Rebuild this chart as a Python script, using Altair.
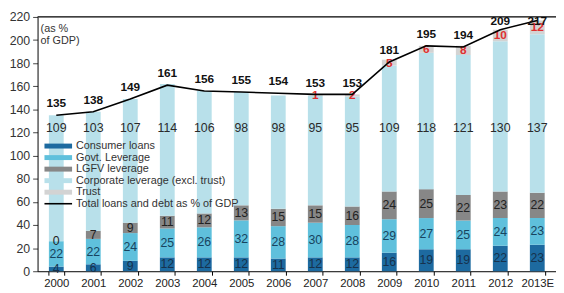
import altair as alt
import pandas as pd

years = ["2000", "2001", "2002", "2003", "2004", "2005", "2006", "2007",
         "2008", "2009", "2010", "2011", "2012", "2013E"]
consumer = [4, 6, 9, 12, 12, 12, 11, 12, 12, 16, 19, 19, 22, 23]
govt = [22, 22, 24, 25, 26, 32, 28, 30, 28, 29, 27, 25, 24, 23]
lgfv = [0, 7, 9, 11, 12, 13, 15, 15, 16, 24, 25, 22, 23, 22]
corporate = [109, 103, 107, 114, 106, 98, 98, 95, 95, 109, 118, 121, 130, 137]
trust = [0, 0, 0, 0, 0, 0, 0, 1, 2, 5, 6, 8, 10, 12]
total = [135, 138, 149, 161, 156, 155, 154, 153, 153, 181, 195, 194, 209, 217]

series_names = ["Consumer loans", "Govt. Leverage", "LGFV leverage",
                "Corporate leverage (excl. trust)", "Trust"]
line_name = "Total loans and debt as % of GDP"

bar_colors = ["#1d6aa0", "#5fc0dc", "#878787", "#b8e0ea", "#d3d3d3"]
label_colors = ["#16324d", "#17445f", "#222222", "#2a2a2a", "#e03030"]

FONT = "Liberation Sans"

rows = []
for rank, (name, vals) in enumerate(zip(series_names, [consumer, govt, lgfv, corporate, trust])):
    for y, v in zip(years, vals):
        rows.append({"year": y, "series": name, "value": v, "rank": rank})
df = pd.DataFrame(rows)
df_total = pd.DataFrame({"year": years, "total": total})

x_axis = alt.Axis(labelAngle=0, tickBand="extent", domainColor="black", tickColor="black",
                  tickSize=4, labelFontSize=11.5, labelColor="#222222", labelPadding=2,
                  labelFont=FONT, grid=False, title=None)
x_scale = alt.Scale(paddingInner=0.6, paddingOuter=0.306)


def X():
    return alt.X("year:N", sort=years, title=None, scale=x_scale, axis=x_axis)


y_scale = alt.Scale(domain=[0, 220], nice=False)
y_axis = alt.Axis(values=list(range(0, 221, 20)), domainColor="black", tickColor="#444444",
                  tickSize=5, labelFontSize=12.5, labelColor="#333333", labelPadding=3,
                  labelFont=FONT, grid=False, title=None, labelOverlap=False)


def Y(field, **kw):
    return alt.Y(field, scale=y_scale, axis=y_axis, title=None, **kw)


bars = alt.Chart(df).mark_bar().encode(
    x=X(),
    y=Y("value:Q", stack="zero"),
    color=alt.Color("series:N", scale=alt.Scale(domain=series_names, range=bar_colors), legend=None),
    order=alt.Order("rank:Q", sort="ascending"),
)

stacked = alt.Chart(df).transform_stack(
    stack="value", groupby=["year"], as_=["y0", "y1"],
    sort=[alt.SortField("rank", order="ascending")],
).transform_calculate(
    mid="datum.rank == 3 ? 124 : (datum.y0 + datum.y1) / 2"
)

label_layers = []
for rank, name in enumerate(series_names):
    t = stacked.transform_filter(alt.datum.rank == rank)
    if name == "Trust":
        t = t.transform_filter(alt.datum.value > 0)
    label_layers.append(
        t.mark_text(fontSize=12 if name == "Trust" else 12.5, font=FONT,
                    fontWeight="bold" if name == "Trust" else "normal",
                    color=label_colors[rank], baseline="middle").encode(
            x=X(),
            y=Y("mid:Q"),
            text=alt.Text("value:Q"),
        )
    )

line = alt.Chart(df_total).mark_line(color="black", strokeWidth=1.6).encode(
    x=X(),
    y=Y("total:Q"),
)

total_labels = alt.Chart(df_total).transform_calculate(
    ly="min(datum.total, 206.5)"
).mark_text(font=FONT, fontSize=12, fontWeight="bold", color="#111111",
            baseline="middle", dy=-12).encode(
    x=X(),
    y=Y("ly:Q"),
    text=alt.Text("total:Q"),
)

top_rule = alt.Chart(pd.DataFrame({"v": [220]})).mark_rule(color="black", strokeWidth=1.2).encode(
    y=Y("v:Q")
)

note = alt.Chart(pd.DataFrame({"t": [["(as %", "of GDP)"]]})).mark_text(
    font=FONT, fontSize=11, color="#333333", align="left", baseline="middle", lineHeight=12
).encode(x=alt.value(3), y=alt.value(12), text="t")

legend_layers = []
legend_items = list(zip(series_names, bar_colors)) + [(line_name, "black")]
for i, (name, col) in enumerate(legend_items):
    yy = 131 + i * 11.7
    sw = alt.Chart(pd.DataFrame({"n": [name]})).mark_rule(
        color=col, strokeWidth=1.6 if name == line_name else 5
    ).encode(x=alt.value(7), x2=alt.value(35), y=alt.value(yy))
    tx = alt.Chart(pd.DataFrame({"n": [name]})).mark_text(
        font=FONT, fontSize=11, color="#333333", align="left", baseline="middle"
    ).encode(x=alt.value(39), y=alt.value(yy), text="n:N")
    legend_layers += [sw, tx]

chart = alt.layer(
    bars, *label_layers, line, total_labels, top_rule, note, *legend_layers
).properties(
    width=526, height=258,
    padding={"left": 30, "top": 7, "right": 0, "bottom": 20},
    autosize=alt.AutoSizeParams(type="none"),
).configure_view(stroke=None).configure_axisY(labelOverlap=False)

chart.save("out.html", embed_options={"renderer": "svg", "actions": False})
